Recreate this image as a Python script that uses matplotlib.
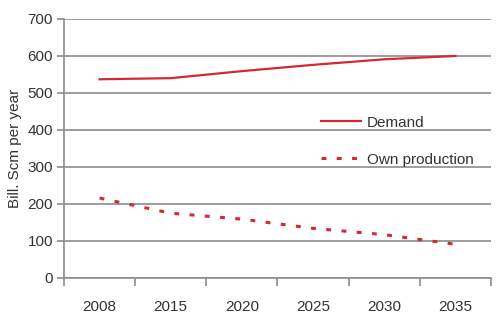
import matplotlib
matplotlib.use("Agg")
import matplotlib.pyplot as plt
import numpy as np

plt.rcParams['font.family'] = ['Liberation Sans', 'DejaVu Sans']

years = ["2008", "2015", "2020", "2025", "2030", "2035"]
demand = [537, 540, 559, 576, 591, 600]
own_production = [216, 175, 159, 134, 117, 91]

RED = '#d42a2f'
GRID = '#8c8c8c'
TEXT = '#333333'

fig = plt.figure(figsize=(5.0, 3.27), dpi=100)
ax = fig.add_axes([0.128, 0.15, 0.854, 0.792])

x = np.arange(len(years))
ax.plot(x, demand, color=RED, lw=1.6, label='Demand')
ax.plot(x, own_production, color=RED, lw=2.2, ls=(0, (1.6, 3.4)), label='Own production')

ax.set_xlim(-0.5, len(years) - 0.5)
ax.set_ylim(0, 700)
ax.set_yticks(range(0, 701, 100))
ax.set_xticks(x)
ax.set_xticklabels(years)
ax.set_xticks(np.arange(-0.5, len(years)), minor=True)

ax.yaxis.grid(True, color=GRID, lw=1.2)
ax.set_axisbelow(True)
for s in ['top', 'right']:
    ax.spines[s].set_visible(False)
for s in ['left', 'bottom']:
    ax.spines[s].set_color(GRID)
    ax.spines[s].set_linewidth(1.2)

ax.tick_params(axis='x', which='major', length=0, pad=16, labelsize=11, labelcolor=TEXT)
ax.tick_params(axis='x', which='minor', length=6, color=GRID, width=1.2)
ax.tick_params(axis='y', length=5, color=GRID, width=1.2, labelsize=11, labelcolor=TEXT, pad=3)

ax.set_ylabel('Bill. Scm per year', fontsize=11, color=TEXT, labelpad=4)

ax.legend(loc='upper left', bbox_to_anchor=(0.57, 0.68), frameon=False,
          fontsize=11, handlelength=2.6, labelspacing=1.5, handletextpad=0.4,
          labelcolor=TEXT)

fig.savefig('out.png', dpi=100)
